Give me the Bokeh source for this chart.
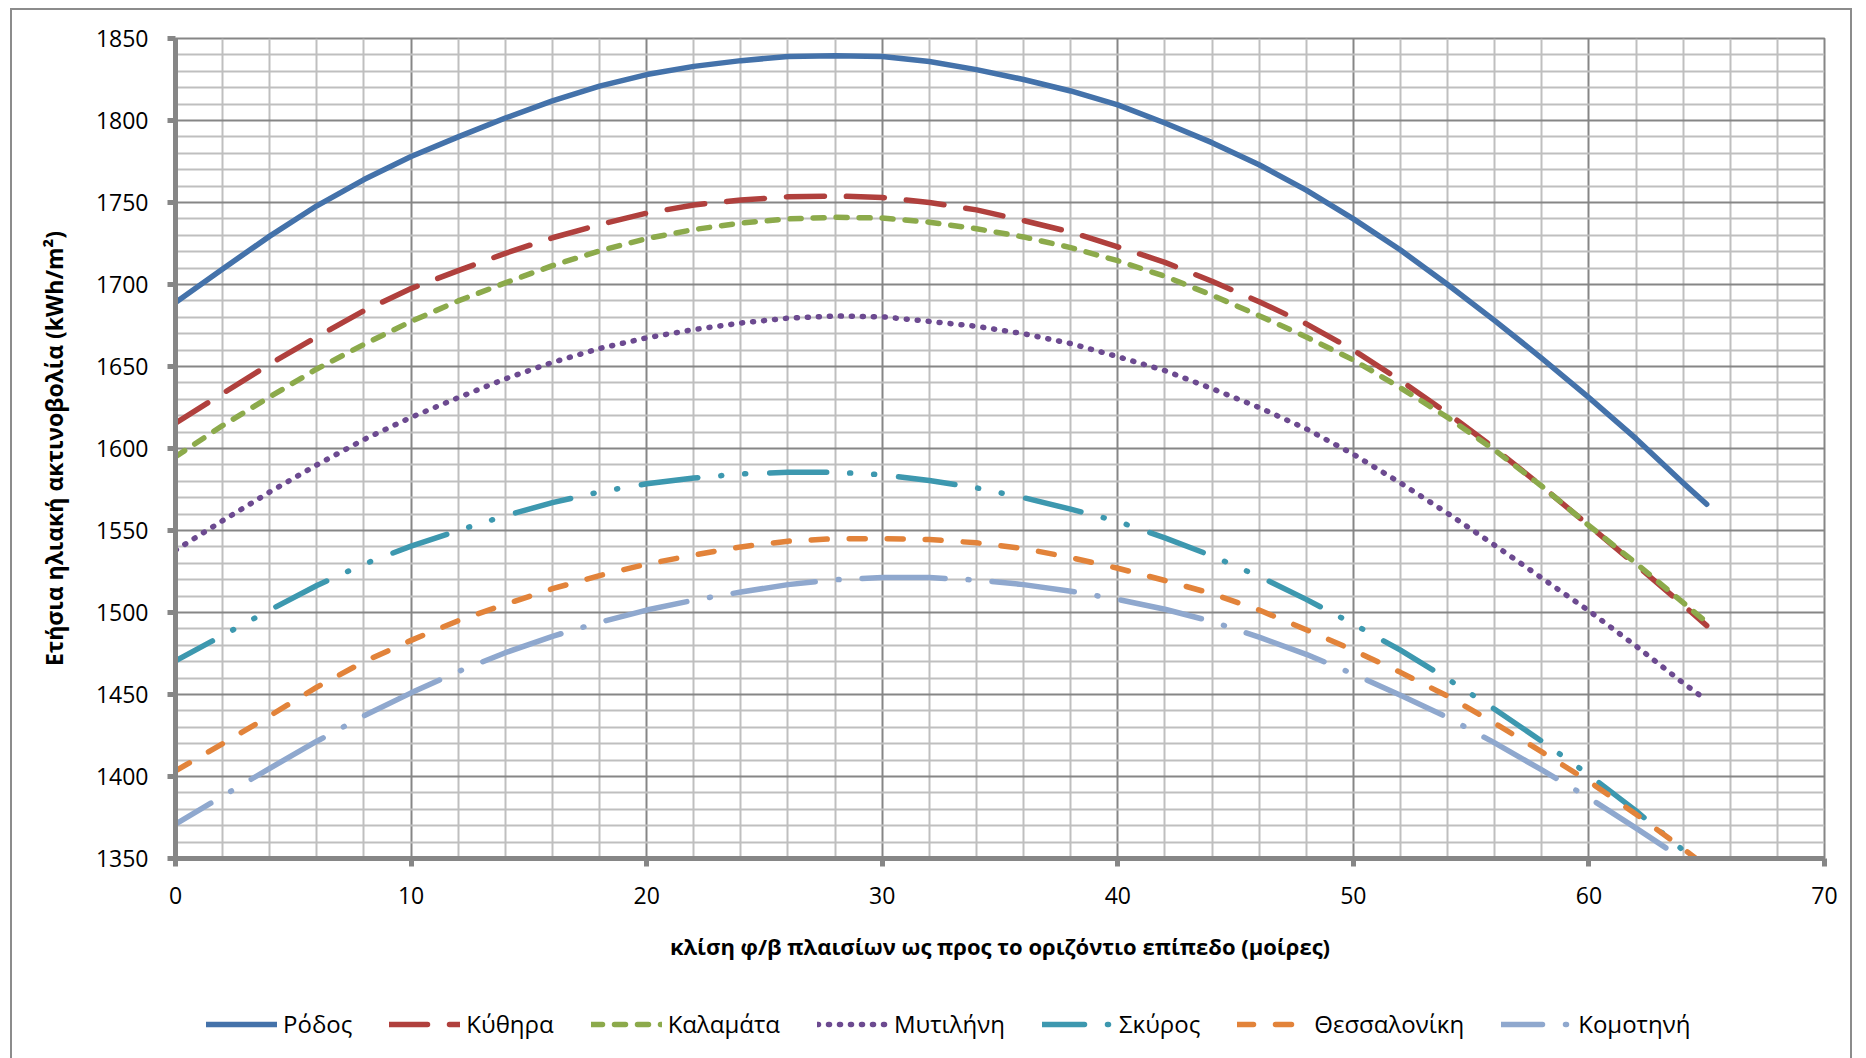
from bokeh.plotting import figure
from bokeh.layouts import column
from bokeh.models import Range1d, FixedTicker, Legend, LegendItem
from bokeh.embed import file_html
from bokeh.resources import INLINE

# Tilt angle of the PV panels (degrees)
tilt = [0, 2, 4, 6, 8, 10, 12, 14, 16, 18, 20, 22, 24, 26, 28, 30, 32,
        34, 36, 38, 40, 42, 44, 46, 48, 50, 52, 54, 56, 58, 60, 62, 64, 65]

# Annual solar irradiation on the tilted plane (kWh/m²)
rodos = [1689, 1709.5, 1729.5, 1748, 1764, 1778, 1790, 1801.5, 1812, 1821,
         1828, 1833, 1836.5, 1839, 1839.5, 1839, 1836, 1831, 1825, 1818,
         1809.5, 1798.5, 1786.5, 1773, 1757.5, 1740, 1721, 1700, 1678, 1655,
         1631, 1606, 1579, 1566]
kythira = [1615.5, 1633.5, 1651.5, 1668, 1684, 1697.5, 1708.5, 1719, 1728.5,
           1736.5, 1743.5, 1748.5, 1751.5, 1753.5, 1754, 1753, 1750, 1745.5,
           1739, 1732, 1723, 1713.5, 1702, 1689.5, 1676, 1660, 1641.5, 1621.5,
           1600, 1577, 1553, 1529, 1504.5, 1492]
kalamata = [1595, 1614, 1631.5, 1648.5, 1663.5, 1677.5, 1690, 1701, 1711.5,
            1720.5, 1728, 1733.5, 1737.5, 1740, 1741, 1740.5, 1738, 1734,
            1729, 1722.5, 1714.5, 1705, 1693.5, 1681, 1668, 1654, 1637, 1619,
            1599, 1577, 1553, 1530, 1506, 1494]
mytilini = [1538, 1556, 1573.5, 1590, 1605.5, 1619, 1631, 1642.5, 1652.5,
            1661, 1667.5, 1672.5, 1676.5, 1679.5, 1680.8, 1680.3, 1677.5,
            1674.5, 1670, 1664, 1656, 1647.5, 1636.5, 1625, 1612, 1596.5,
            1579, 1560.5, 1541, 1521, 1501, 1479.5, 1457, 1446.5]
skyros = [1470.5, 1486, 1501.5, 1516.5, 1529.5, 1540.5, 1550, 1559, 1567,
          1573.5, 1578.5, 1582, 1584.5, 1585.5, 1585.5, 1584, 1580.5, 1576,
          1570, 1563, 1555.5, 1545.5, 1534.5, 1522, 1508, 1493, 1477, 1459.5,
          1441, 1421.5, 1401, 1379, 1355, 1343]
thessaloniki = [1403.5, 1420, 1437, 1454.5, 1470, 1483, 1495, 1505, 1514.5,
                1522.5, 1529.5, 1535, 1540, 1543.5, 1545, 1545, 1544.5, 1542.5,
                1539, 1533.5, 1527, 1519.5, 1511.5, 1501.5, 1489.5, 1477,
                1463.5, 1449, 1432.5, 1415, 1397, 1377, 1356, 1345]
komotini = [1371, 1388, 1405, 1421.5, 1437, 1451, 1464, 1475.5, 1485.5, 1494,
            1501.5, 1507.5, 1512.5, 1517, 1520, 1521.3, 1521.3, 1519.8, 1517,
            1513, 1508, 1502, 1494.5, 1485, 1474.5, 1462.5, 1449.5, 1436,
            1420.5, 1404, 1387, 1368.5, 1349.5, 1339]

cities = ["Ρόδος", "Κύθηρα", "Καλαμάτα", "Μυτιλήνη", "Σκύρος", "Θεσσαλονίκη", "Κομοτηνή"]
series = [rodos, kythira, kalamata, mytilini, skyros, thessaloniki, komotini]

x_ticks = list(range(0, 71, 10))
y_ticks = list(range(1350, 1851, 50))

FONT = "Open Sans"
WIDTH = 1838

# line styles: colour, dash pattern, dash offset
styles = [
    ("#4472AA", "solid", 0),
    ("#B0403D", "38 22", 0),
    ("#8CAA4B", "11 12", 0),
    ("#6C4A90", "1 10", 0),
    ("#3D98AF", "57 23 1 23 1 24", 15),
    ("#E2833A", "16 22", 0),
    ("#8FA8CE", "83 23 1 23", 42),
]

# ---- main chart ----
p = figure(width=WIDTH, height=973,
           x_range=Range1d(0, 70), y_range=Range1d(1350, 1850),
           output_backend="svg", toolbar_location=None,
           min_border_left=163, min_border_right=26,
           min_border_top=28, min_border_bottom=125)

p.background_fill_color = "white"
p.border_fill_color = "white"
p.outline_line_color = "#868686"
p.outline_line_width = 2

p.xaxis.ticker = FixedTicker(ticks=x_ticks,
                             minor_ticks=[v for v in range(0, 71, 2) if v % 10])
p.yaxis.ticker = FixedTicker(ticks=y_ticks,
                             minor_ticks=[v for v in range(1350, 1851, 10) if v % 50])

for grid in (p.xgrid, p.ygrid):
    grid.grid_line_color = "#868686"
    grid.grid_line_width = 2
    grid.minor_grid_line_color = "#bfbfbf"
    grid.minor_grid_line_width = 2

for axis in (p.xaxis, p.yaxis):
    axis.axis_line_color = "#868686"
    axis.axis_line_width = 5
    axis.major_tick_line_color = "#868686"
    axis.major_tick_line_width = 5
    axis.major_tick_in = 0
    axis.major_tick_out = 8
    axis.minor_tick_line_color = None
    axis.major_label_text_font = FONT
    axis.major_label_text_font_size = "23px"
    axis.major_label_text_color = "black"
    axis.axis_label_text_font = FONT
    axis.axis_label_text_font_style = "bold"
    axis.axis_label_text_color = "black"

p.xaxis.axis_label_text_font_size = "22px"
p.yaxis.axis_label_text_font_size = "23px"
p.xaxis.major_label_standoff = 20
p.yaxis.major_label_standoff = 19
p.xaxis.axis_label_standoff = 24
p.yaxis.axis_label_standoff = 23
p.xaxis.axis_label = "κλίση φ/β πλαισίων ως προς το οριζόντιο επίπεδο (μοίρες)"
p.yaxis.axis_label = "Ετήσια ηλιακή ακτινοβολία (kWh/m²)"

for vals, (color, dash, offset) in zip(series, styles):
    p.line(tilt, vals, line_color=color, line_width=5.5,
           line_dash=dash, line_dash_offset=offset,
           line_cap="round", line_join="round")

# ---- legend strip under the chart ----
# the series are repeated here only to carry the legend swatches; the view
# range keeps them out of sight
lf = figure(width=WIDTH, height=75, x_range=Range1d(-200, -100),
            y_range=Range1d(0, 1),
            output_backend="svg", toolbar_location=None, min_border=0)
lf.axis.visible = False
lf.grid.visible = False
lf.outline_line_color = None
lf.background_fill_color = "white"
lf.border_fill_color = "white"

items = []
for name, vals, (color, dash, offset) in zip(cities, series, styles):
    r = lf.line(tilt, vals, line_color=color, line_width=5.5,
                line_dash=dash, line_dash_offset=offset,
                line_cap="round", line_join="round")
    items.append(LegendItem(label=name, renderers=[r]))

legend = Legend(items=items, orientation="horizontal", location=(31, 18),
                glyph_width=71, glyph_height=20, label_standoff=6, spacing=37,
                padding=0, margin=0, border_line_color=None,
                background_fill_alpha=0,
                label_text_font=FONT, label_text_font_size="24px",
                label_text_color="black")
lf.add_layout(legend, "center")

layout = column(p, lf, spacing=0)
layout.margin = (8, 0, 0, 10)
layout.styles = {"border-left": "2px solid #8c8c8c",
                 "border-top": "2px solid #8c8c8c",
                 "border-right": "2px solid #8c8c8c"}

open("out.html", "w").write(file_html(layout, INLINE))
